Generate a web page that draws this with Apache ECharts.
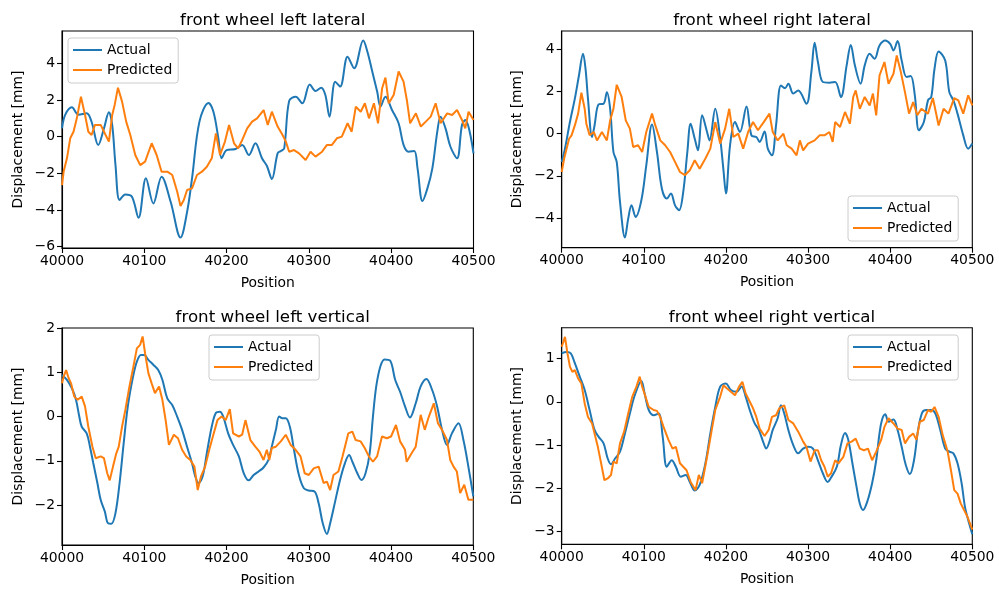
<!DOCTYPE html>
<html>
<head>
<meta charset="utf-8">
<script src="https://cdn.jsdelivr.net/npm/echarts@6/dist/echarts.min.js"></script>
<style>
  html, body { margin: 0; padding: 0; background: #fff; }
  #chart { width: 999px; height: 592px; }
</style>
</head>
<body>
<div id="chart"></div>
<script>
// Wheel displacement traces over track position: measured (Actual) vs model output (Predicted)

const positionTicks = [40000, 40100, 40200, 40300, 40400, 40500];
const titles = ['front wheel left lateral', 'front wheel right lateral', 'front wheel left vertical', 'front wheel right vertical'];

// ---- front wheel left lateral ----
const flLatActualPos = [40000,40004,40012,40020,40030,40036,40044,40051,40057,40061,40065,40070,40077,40085,40093,40102,40111,40121,40132,40144,40152,40158,40167,40178,40184,40190,40194,40200,40211,40219,40227,40235,40243,40249,40255,40262,40266,40270,40276,40284,40292,40301,40308,40315,40320,40325,40332,40338,40347,40355,40366,40371,40377,40383,40387,40393,40401,40409,40415,40421,40428,40432,40438,40444,40450,40456,40460,40466,40472,40480,40486,40490,40500];
const flLatActual = [0.45,1.2,1.6,1.2,1.27,0.8,-0.45,0.45,1.33,0.64,-1.55,-3.45,-3.15,-3.27,-4.42,-2.27,-3.64,-2.18,-3.55,-5.5,-4.1,-2.27,0.82,1.84,1.36,-0.09,-1.18,-0.73,-0.67,-0.45,-1.0,-0.36,-1.18,-1.6,-2.31,-0.91,-0.78,-0.64,1.95,2.18,1.82,2.85,2.49,2.67,2.27,1.09,3.0,2.73,4.36,3.73,5.24,4.64,3.55,2.45,1.64,2.18,1.45,0.73,-0.45,-0.82,-0.78,-1.73,-3.51,-2.82,-1.73,0.27,1.09,0.45,-0.55,-1.18,0.64,0.91,-0.91];
const flLatPredPos = [40000,40002,40006,40010,40014,40018,40023,40028,40032,40036,40040,40047,40053,40057,40061,40064,40068,40073,40078,40083,40089,40095,40101,40109,40115,40121,40128,40134,40140,40144,40148,40152,40158,40164,40170,40176,40182,40187,40192,40198,40203,40209,40214,40219,40225,40231,40237,40245,40250,40255,40262,40268,40272,40276,40282,40288,40296,40302,40308,40316,40322,40328,40334,40340,40347,40352,40357,40363,40368,40373,40379,40384,40389,40393,40397,40403,40409,40415,40419,40423,40430,40436,40442,40448,40454,40460,40468,40474,40480,40486,40490,40494,40500];
const flLatPred = [-2.64,-1.9,-1.18,-0.09,0.27,1.0,2.18,1.18,0.27,0.09,0.64,0.64,0.09,-0.27,1.18,1.73,2.67,1.91,0.82,0.09,-1.0,-1.55,-1.36,-0.36,-1.0,-1.91,-1.91,-2.09,-3.0,-3.78,-3.45,-2.91,-2.82,-2.09,-1.91,-1.64,-1.18,0.18,-1.0,-0.27,0.64,-0.36,-0.64,-0.18,0.45,0.82,1.0,1.45,0.64,1.36,0.55,0.09,-0.27,-0.82,-0.73,-0.91,-1.27,-0.82,-1.09,-0.82,-0.45,-0.45,-0.09,0.0,0.73,0.27,1.64,1.36,1.82,1.0,1.82,0.73,2.64,3.22,1.82,2.27,3.55,3.0,2.0,0.73,1.27,0.55,0.82,1.09,1.82,0.73,1.27,1.18,1.45,0.91,0.45,1.36,0.91];

// ---- front wheel right lateral ----
const frLatActualPos = [40000,40004,40010,40016,40021,40026,40029,40032,40037,40040,40045,40051,40055,40059,40063,40067,40071,40077,40081,40085,40090,40097,40103,40110,40116,40122,40128,40133,40138,40143,40148,40153,40157,40162,40166,40171,40177,40180,40187,40193,40197,40200,40205,40211,40217,40225,40231,40237,40241,40247,40251,40256,40261,40267,40272,40276,40282,40288,40298,40304,40308,40312,40318,40326,40333,40340,40347,40352,40357,40364,40369,40375,40381,40387,40394,40400,40404,40409,40414,40420,40425,40430,40435,40441,40446,40450,40454,40459,40467,40472,40477,40482,40489,40495,40500];
const frLatActual = [-1.34,-0.71,0.55,1.66,2.76,3.79,3.08,1.66,-0.16,0.39,1.39,1.42,1.97,1.18,-0.87,-1.34,-3.24,-4.93,-4.03,-3.4,-3.95,-3.16,-1.5,0.43,-0.87,-2.61,-3.08,-2.84,-3.4,-3.63,-2.76,-0.87,0.47,-0.24,-0.79,0.87,0.08,-0.32,1.18,-0.24,-1.74,-2.84,-0.55,0.55,0.08,1.29,-0.08,-0.16,-0.39,0.1,-0.71,-1.03,0.39,2.29,2.16,2.37,1.9,2.05,1.42,2.92,4.31,3.4,2.45,2.42,2.45,1.74,3.24,4.21,3.24,2.37,3.24,3.79,3.55,4.18,4.42,4.26,3.95,4.39,3.47,2.69,2.73,1.82,0.16,0.55,1.58,1.74,3.08,3.9,3.47,1.97,1.58,0.95,-0.08,-0.71,-0.47];
const frLatPredPos = [40000,40003,40006,40009,40012,40016,40020,40024,40028,40030,40034,40039,40043,40049,40055,40059,40063,40067,40073,40078,40083,40087,40093,40098,40103,40110,40114,40120,40126,40132,40138,40144,40150,40156,40162,40168,40175,40181,40187,40193,40199,40204,40209,40215,40221,40227,40233,40239,40246,40253,40257,40263,40270,40274,40280,40286,40290,40294,40300,40308,40314,40320,40326,40330,40333,40339,40345,40351,40355,40358,40363,40369,40375,40379,40383,40387,40393,40398,40404,40408,40413,40418,40423,40428,40433,40438,40446,40452,40459,40465,40471,40478,40483,40489,40495,40500];
const frLatPred = [-1.82,-1.18,-0.71,-0.24,-0.08,0.39,0.95,1.94,1.18,0.47,-0.08,0.08,-0.32,0.08,-0.32,0.63,1.18,2.32,1.74,0.63,0.24,-0.63,-0.55,-0.87,0.08,0.95,0.39,-0.32,-0.55,-0.87,-1.34,-1.82,-1.97,-1.74,-1.26,-1.66,-1.18,-0.71,0.55,-0.47,0.24,1.18,-0.16,0.0,-0.71,0.08,0.55,0.16,0.55,0.95,0.08,-0.32,0.0,-0.55,-0.71,-1.03,-0.32,-0.79,-0.47,-0.32,-0.08,-0.08,0.08,-0.39,0.55,0.32,1.03,0.47,1.74,2.05,1.18,1.74,1.34,1.9,0.87,2.76,3.4,2.37,2.84,3.71,2.92,1.97,0.95,1.5,0.87,1.18,0.95,1.69,0.39,1.18,0.95,1.69,1.58,0.95,1.82,1.34];

// ---- front wheel left vertical ----
const flVertActualPos = [40000,40006,40012,40017,40021,40024,40030,40034,40038,40043,40047,40052,40056,40060,40065,40070,40075,40080,40086,40091,40096,40100,40105,40111,40117,40122,40128,40134,40140,40146,40152,40158,40162,40166,40171,40176,40182,40187,40192,40196,40202,40208,40215,40221,40227,40233,40239,40245,40251,40255,40260,40264,40268,40272,40277,40282,40288,40294,40300,40307,40312,40317,40322,40326,40332,40338,40344,40349,40353,40359,40364,40369,40374,40378,40382,40387,40392,40399,40405,40411,40417,40423,40430,40436,40443,40450,40456,40462,40468,40474,40482,40488,40494,40500];
const flVertActual = [0.94,0.83,0.64,0.38,0.0,-0.23,-0.38,-0.68,-1.05,-1.5,-1.88,-2.14,-2.41,-2.42,-2.18,-1.5,-0.6,0.23,0.87,1.24,1.39,1.39,1.28,1.17,1.05,0.83,0.41,0.26,0.0,-0.3,-0.68,-1.05,-1.35,-1.5,-1.35,-0.83,-0.23,0.08,0.11,0.0,-0.38,-0.64,-0.9,-1.28,-1.44,-1.32,-1.24,-1.15,-0.98,-0.68,-0.3,0.0,-0.04,-0.04,-0.23,-0.75,-1.32,-1.62,-1.67,-1.69,-1.96,-2.41,-2.65,-2.41,-1.92,-1.43,-1.05,-0.87,-1.02,-1.28,-1.43,-1.28,-0.83,0.0,0.68,1.13,1.29,1.26,0.83,0.56,0.23,-0.02,0.3,0.68,0.85,0.6,0.23,-0.3,-0.64,-0.38,-0.15,-0.53,-1.13,-1.8];
const flVertPredPos = [40000,40002,40005,40008,40011,40015,40019,40024,40028,40032,40037,40041,40047,40051,40055,40058,40062,40066,40069,40073,40077,40082,40086,40091,40095,40098,40101,40105,40109,40113,40118,40122,40126,40130,40136,40141,40146,40151,40156,40161,40165,40169,40174,40179,40184,40189,40194,40199,40204,40208,40215,40219,40223,40229,40235,40240,40245,40249,40252,40255,40260,40266,40272,40278,40284,40290,40295,40300,40306,40312,40318,40322,40326,40330,40336,40341,40348,40353,40357,40363,40368,40373,40378,40383,40389,40395,40400,40406,40411,40417,40419,40425,40430,40436,40441,40446,40452,40457,40462,40468,40472,40476,40480,40484,40489,40494,40500];
const flVertPred = [0.75,0.9,1.05,0.87,0.75,0.45,0.38,0.45,0.23,-0.23,-0.68,-0.94,-0.9,-0.94,-1.28,-1.44,-1.13,-0.83,-0.68,-0.23,0.15,0.68,1.05,1.54,1.62,1.81,1.43,0.98,0.75,0.53,0.68,0.38,-0.08,-0.64,-0.41,-0.49,-0.75,-0.9,-0.98,-1.13,-1.66,-1.35,-1.13,-0.75,-0.41,-0.08,0.0,-0.08,0.17,-0.38,-0.45,-0.41,-0.08,-0.53,-0.68,-0.79,-0.98,-0.75,-0.98,-0.71,-0.68,-0.56,-0.41,-0.64,-0.75,-0.9,-1.28,-1.32,-1.17,-1.13,-1.5,-1.47,-1.66,-1.32,-1.24,-0.9,-0.38,-0.34,-0.53,-0.56,-0.71,-0.9,-1.02,-0.9,-0.45,-0.49,-0.45,-0.19,-0.56,-0.75,-1.02,-0.83,-0.68,0.04,-0.3,0.0,0.3,-0.15,-0.3,-0.53,-0.98,-1.13,-1.24,-1.73,-1.54,-1.88,-1.88];

// ---- front wheel right vertical ----
const frVertActualPos = [40000,40006,40011,40016,40022,40028,40034,40040,40045,40051,40056,40060,40065,40071,40077,40083,40089,40097,40101,40106,40112,40118,40123,40128,40134,40139,40145,40151,40156,40162,40168,40175,40181,40187,40193,40200,40206,40213,40219,40224,40229,40235,40240,40246,40249,40253,40257,40263,40267,40271,40276,40282,40288,40294,40300,40306,40312,40318,40324,40328,40335,40340,40345,40349,40354,40359,40363,40367,40372,40378,40383,40387,40390,40394,40398,40404,40409,40414,40419,40424,40429,40434,40439,40444,40450,40455,40461,40467,40472,40477,40482,40487,40491,40495,40500];
const frVertActual = [1.12,1.15,1.12,0.89,0.58,0.27,-0.19,-0.65,-0.81,-0.96,-1.31,-1.44,-1.31,-1.15,-0.73,-0.27,0.15,0.48,0.19,-0.19,-0.31,-0.27,-0.81,-1.5,-1.35,-1.5,-1.73,-1.69,-1.85,-2.05,-1.92,-1.42,-0.73,-0.12,0.35,0.42,0.27,0.23,0.35,0.12,-0.19,-0.5,-0.65,-0.96,-1.08,-0.92,-0.65,-0.38,-0.08,-0.27,-0.65,-1.0,-1.19,-1.08,-1.04,-1.08,-1.35,-1.65,-1.85,-1.75,-1.5,-1.0,-0.72,-0.88,-1.42,-1.96,-2.35,-2.5,-2.31,-1.88,-1.35,-0.73,-0.42,-0.29,-0.46,-0.41,-0.65,-1.04,-1.46,-1.67,-1.35,-0.65,-0.25,-0.19,-0.19,-0.27,-0.65,-1.08,-1.15,-1.19,-1.42,-1.88,-2.42,-2.73,-3.06];
const frVertPredPos = [40000,40002,40004,40007,40010,40013,40016,40020,40024,40028,40032,40037,40040,40044,40048,40052,40056,40060,40063,40067,40071,40076,40081,40086,40091,40095,40098,40102,40106,40112,40116,40120,40124,40130,40135,40139,40144,40148,40152,40157,40163,40167,40171,40177,40182,40187,40193,40197,40201,40206,40211,40216,40220,40224,40228,40233,40237,40241,40247,40252,40256,40261,40265,40271,40276,40282,40288,40294,40298,40303,40308,40312,40316,40320,40324,40328,40333,40337,40343,40348,40353,40358,40363,40368,40373,40378,40383,40389,40393,40398,40404,40409,40414,40418,40423,40428,40432,40436,40441,40446,40450,40454,40459,40464,40470,40474,40478,40482,40486,40490,40494,40500];
const frVertPred = [1.27,1.38,1.5,1.12,0.81,0.69,0.73,0.54,0.42,-0.04,-0.35,-0.5,-0.73,-1.04,-1.42,-1.81,-1.77,-1.69,-1.38,-1.42,-0.96,-0.69,-0.27,0.12,0.35,0.58,0.35,0.12,-0.12,-0.19,-0.21,-0.35,-0.58,-0.88,-1.08,-1.04,-1.42,-1.5,-1.58,-1.85,-2.04,-1.69,-1.88,-1.27,-0.73,-0.19,0.12,0.38,0.31,0.23,0.15,0.35,0.46,0.19,0.04,-0.15,-0.35,-0.62,-0.79,-0.65,-0.35,-0.31,-0.15,-0.08,-0.42,-0.5,-0.69,-0.92,-1.04,-1.38,-1.12,-1.12,-1.35,-1.5,-1.73,-1.65,-1.35,-1.42,-1.27,-0.96,-0.92,-0.85,-1.08,-1.12,-1.08,-1.35,-1.15,-0.88,-0.58,-0.38,-0.5,-0.62,-0.65,-0.96,-0.81,-0.73,-0.88,-0.46,-0.42,-0.19,-0.23,-0.12,-0.35,-0.77,-1.15,-1.58,-2.04,-2.12,-2.35,-2.5,-2.65,-2.95];

// Y axis ranges and tick values for each panel
const yRanges = [[-6.07, 5.76], [-5.41, 4.87], [-2.9, 2.0], [-3.29, 1.71]];
const yTicks = [[-6, -4, -2, 0, 2, 4], [-4, -2, 0, 2, 4], [-2, -1, 0, 1, 2], [-3, -2, -1, 0, 1]];

const panels = [
  { actual: [flLatActualPos, flLatActual], pred: [flLatPredPos, flLatPred] },
  { actual: [frLatActualPos, frLatActual], pred: [frLatPredPos, frLatPred] },
  { actual: [flVertActualPos, flVertActual], pred: [flVertPredPos, flVertPred] },
  { actual: [frVertActualPos, frVertActual], pred: [frVertPredPos, frVertPred] }
];

const FONT = 'DejaVu Sans';
const BLUE = '#1f77b4';
const ORANGE = '#ff7f0e';

const gridBoxes = [
  { left: 62, top: 31, width: 411.5, height: 217 },
  { left: 561.7, top: 31, width: 410.6, height: 216.7 },
  { left: 62, top: 328, width: 411.3, height: 217 },
  { left: 561.7, top: 327.7, width: 410.6, height: 216.6 }
];
const legendPlaces = [
  { left: 68, top: 38 },
  { left: 848, top: 196 },
  { left: 209, top: 335 },
  { left: 848, top: 335 }
];
const titleTops = [7, 7, 304, 304];

const pairs = (xs, ys) => xs.map((x, i) => [x, ys[i]]);
const minusFmt = v => (v < 0 ? '\u2212' + Math.abs(v) : String(v));

const option = {
  animation: false,
  backgroundColor: '#fff',
  textStyle: { fontFamily: FONT },
  title: titles.map((t, i) => ({
    text: t,
    left: gridBoxes[i].left + gridBoxes[i].width / 2,
    top: titleTops[i],
    textAlign: 'center',
    textStyle: { fontFamily: FONT, fontSize: 16.7, fontWeight: 'normal', color: '#000' }
  })),
  legend: panels.map((p, i) => ({
    left: legendPlaces[i].left,
    top: legendPlaces[i].top,
    orient: 'vertical',
    data: [
      { name: 'Actual' + i, itemStyle: { color: BLUE } },
      { name: 'Predicted' + i, itemStyle: { color: ORANGE } }
    ],
    formatter: n => n.replace(/\d+$/, ''),
    icon: 'rect',
    itemWidth: 29,
    itemHeight: 2,
    itemGap: 6,
    itemTextGap: 10,
    padding: [5, 6, 6, 5],
    backgroundColor: 'rgba(255,255,255,0.8)',
    borderColor: '#cccccc',
    borderWidth: 1,
    borderRadius: 3,
    textStyle: { fontFamily: FONT, fontSize: 13.9, color: '#000' },
    selectedMode: false
  })),
  grid: gridBoxes.map(g => ({
    left: g.left, top: g.top, width: g.width, height: g.height,
    show: true, borderColor: '#000', borderWidth: 1.1, backgroundColor: 'transparent'
  })),
  xAxis: gridBoxes.map((g, i) => ({
    type: 'value',
    gridIndex: i,
    min: positionTicks[0],
    max: positionTicks[positionTicks.length - 1],
    interval: 100,
    name: 'Position',
    nameLocation: 'middle',
    nameGap: 28,
    nameTextStyle: { fontFamily: FONT, fontSize: 13.9, color: '#000' },
    axisLine: { show: true, onZero: false, lineStyle: { color: '#000', width: 1.1 } },
    axisTick: { show: true, length: 5, lineStyle: { color: '#000', width: 1.1 } },
    axisLabel: { margin: 6, fontFamily: FONT, fontSize: 13.9, color: '#000', formatter: v => String(v) },
    splitLine: { show: false }
  })),
  yAxis: gridBoxes.map((g, i) => ({
    type: 'value',
    gridIndex: i,
    min: yRanges[i][0],
    max: yRanges[i][1],
    name: 'Displacement [mm]',
    nameLocation: 'middle',
    nameGap: 37,
    nameRotate: 90,
    nameTextStyle: { fontFamily: FONT, fontSize: 13.9, color: '#000' },
    axisLine: { show: true, onZero: false, lineStyle: { color: '#000', width: 1.1 } },
    axisTick: { show: true, length: 5, customValues: yTicks[i], lineStyle: { color: '#000', width: 1.1 } },
    axisLabel: { margin: 7, fontFamily: FONT, fontSize: 13.9, color: '#000', customValues: yTicks[i], formatter: minusFmt },
    splitLine: { show: false }
  })),
  series: panels.flatMap((p, i) => [
    {
      name: 'Actual' + i,
      type: 'line',
      xAxisIndex: i,
      yAxisIndex: i,
      data: pairs(p.actual[0], p.actual[1]),
      showSymbol: false,
      smooth: 0.35,
      lineStyle: { color: BLUE, width: 2 },
      itemStyle: { color: BLUE },
      z: 2
    },
    {
      name: 'Predicted' + i,
      type: 'line',
      xAxisIndex: i,
      yAxisIndex: i,
      data: pairs(p.pred[0], p.pred[1]),
      showSymbol: false,
      lineStyle: { color: ORANGE, width: 2 },
      itemStyle: { color: ORANGE },
      z: 3
    }
  ])
};

const chart = echarts.init(document.getElementById('chart'), null, { renderer: 'canvas' });
chart.setOption(option);
</script>
</body>
</html>
